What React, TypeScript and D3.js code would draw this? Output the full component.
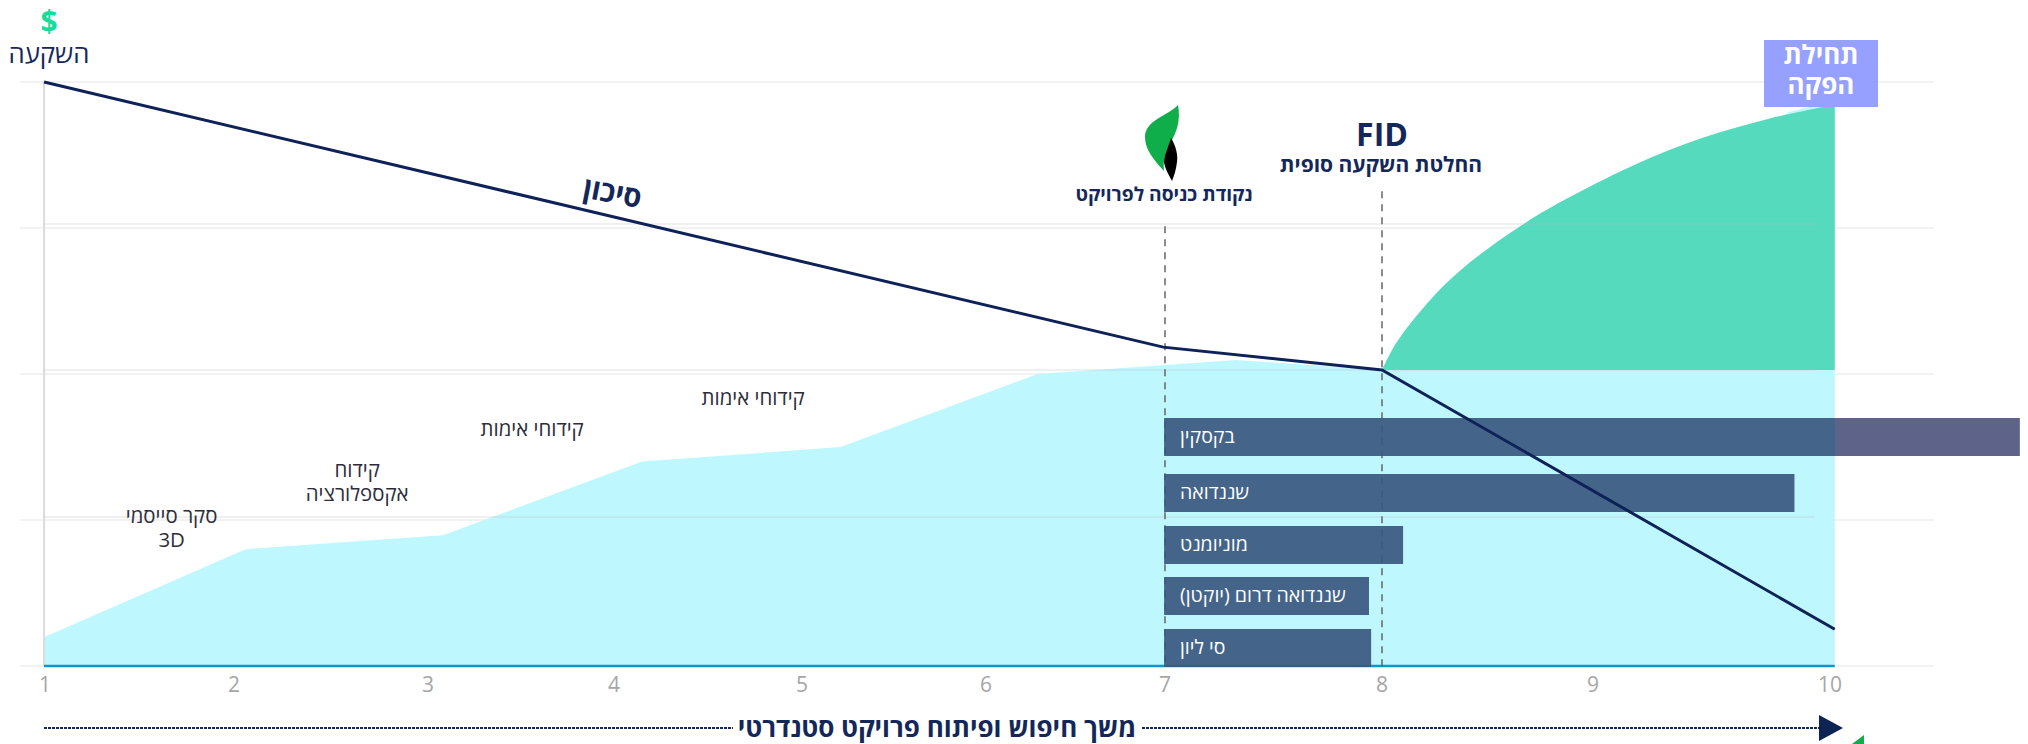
import React from "react";
import * as d3 from "d3";

const WIDTH = 2028;
const HEIGHT = 744;
const FONT = "'Open Sans', 'Noto Sans', 'DejaVu Sans', sans-serif";

// tick labels and their (uneven) positions along the timeline
const xTicks = [1, 2, 3, 4, 5, 6, 7, 8, 9, 10];
const xTickPixels = [45, 234, 428, 614, 802, 986, 1165, 1382, 1593, 1830];

// values (0–100 scale of the hidden y axis)
const gridValues = [0, 25, 50, 75, 100];
const gridOverlayValues = [25.5, 50.7, 75.7];

const riskX = [0.995, 6.99, 8, 10.02];
const riskY = [100, 54.6, 50.7, 6.3];

const explorationX = [1, 2.06, 3.08, 4.15, 5.21, 6.29, 7.33, 8, 9.83, 10.02];
const explorationY = [5, 20, 22.4, 35, 37.5, 50, 52.4, 50.7, 94.9, 96.8];

const productionX = [8, 8.04, 8.1, 8.26, 8.42, 8.68, 8.89, 9.19, 9.46, 9.75, 10.02];
const productionY = [50.7, 53.6, 57, 63.9, 69.2, 75.9, 80.3, 86.1, 90.4, 93.8, 96.1];
const productionBase = 50.7;

const projects = ["בקסקין", "שננדואה", "מוניומנט", "שננדואה דרום (יוקטן)", "סי ליון"];
const projectStart = 6.995;
const projectEnd = [10.8, 9.85, 8.1, 7.94, 7.95];
const rowTops = [418, 474, 526, 577, 629];

const stageLabels = [
  { x: 1.67, y: 25.4, lines: ["סקר סייסמי", "3D"] },
  { x: 2.635, y: 33.3, lines: ["קידוח", "אקספלורציה"] },
  { x: 3.56, y: 40.4, lines: ["קידוחי אימות"] },
  { x: 4.74, y: 45.6, lines: ["קידוחי אימות"] },
];

const x = d3.scaleLinear().domain(xTicks).range(xTickPixels);
const y = d3.scaleLinear().domain([0, 100]).range([666, 82]);
const rowY = d3.scaleLinear().domain(projects.map((_, i) => i)).range(rowTops);
const ROW_H = 38;

const pairs = (xs: number[], ys: number[]) => xs.map((v, i) => [v, ys[i]] as [number, number]);

const riskLine = d3.line<[number, number]>().x((d) => x(d[0])).y((d) => y(d[1]))(pairs(riskX, riskY))!;
const explorationArea = d3
  .area<[number, number]>()
  .x((d) => x(d[0]))
  .y0(y(0))
  .y1((d) => y(d[1]))(pairs(explorationX, explorationY))!;
const productionArea = d3
  .area<[number, number]>()
  .x((d) => x(d[0]))
  .y0(y(productionBase))
  .y1((d) => y(d[1]))
  .curve(d3.curveCatmullRom.alpha(0.5))(pairs(productionX, productionY))!;

const NAVY = "#14275a";

export default function App() {
  const xEnd = x(10.02);
  return (
    <svg
      width={WIDTH}
      height={HEIGHT}
      viewBox={`0 0 ${WIDTH} ${HEIGHT}`}
      style={{ position: "absolute", left: 0, top: 0, display: "block", background: "#fff", fontFamily: FONT }}
    >
      {gridValues.map((v) => (
        <line key={v} x1={20} x2={1934} y1={y(v)} y2={y(v)} stroke="#eeeeee" strokeWidth={1.5} />
      ))}
      <line x1={x(0.995)} x2={x(0.995)} y1={y(100)} y2={y(0)} stroke="#dcdcdc" strokeWidth={2} />

      <path d={explorationArea} fill="#bff7ff" />
      <path d={productionArea} fill="#55dabe" />
      {gridOverlayValues.map((v) => (
        <line key={v} x1={x(0.995)} x2={1815} y1={y(v)} y2={y(v)} stroke="#bbbbbb" strokeOpacity={0.22} strokeWidth={2} />
      ))}

      <line x1={x(0.995)} x2={xEnd} y1={y(0)} y2={y(0)} stroke="#0a97d0" strokeWidth={2.5} />

      <line x1={x(7)} x2={x(7)} y1={y(75.3)} y2={y(0)} stroke="#666" strokeWidth={1.5} strokeDasharray="7 6" />
      <line x1={x(8)} x2={x(8)} y1={y(81.3)} y2={y(0)} stroke="#666" strokeWidth={1.5} strokeDasharray="7 6" />

      {projects.map((name, i) => (
        <g key={name}>
          <rect
            x={x(projectStart)}
            y={rowY(i)}
            width={x(projectEnd[i]) - x(projectStart)}
            height={ROW_H}
            fill="#3a587f"
            fillOpacity={0.92}
          />
          {projectEnd[i] > 10.02 && (
            <rect
              x={xEnd}
              y={rowY(i)}
              width={x(projectEnd[i]) - xEnd}
              height={ROW_H}
              fill="#5e6389"
            />
          )}
          <text
            x={1180}
            y={rowY(i) + ROW_H / 2 + 1}
            direction="rtl"
            textAnchor="end"
            dominantBaseline="middle"
            fontSize={19.5}
            fill="#fff"
          >
            {name}
          </text>
        </g>
      ))}

      <path d={riskLine} fill="none" stroke="#0e2257" strokeWidth={3} />

      {stageLabels.map((s, i) =>
        s.lines.map((t, j) => (
          <text
            key={i + "-" + j}
            x={x(s.x)}
            y={y(s.y) + j * 24}
            textAnchor="middle"
            dominantBaseline="middle"
            fontSize={20.4}
            fill="#2d2d3a"
          >
            {t}
          </text>
        ))
      )}

      {xTicks.map((t) => (
        <text key={t} x={x(t)} y={686} textAnchor="middle" dominantBaseline="middle" fontSize={21} fill="#a6a6a6">
          {t}
        </text>
      ))}

      {/* y-axis heading */}
      <text x={49} y={24} textAnchor="middle" dominantBaseline="middle" fontSize={30} fontWeight={700} fill="#16dd9c">
        $
      </text>
      <text x={49} y={56} textAnchor="middle" dominantBaseline="middle" fontSize={25.7} fill={NAVY}>
        השקעה
      </text>

      <text
        transform="translate(612,195) rotate(11)"
        textAnchor="middle"
        dominantBaseline="middle"
        fontSize={29}
        fontWeight={700}
        fill={NAVY}
      >
        סיכון
      </text>

      {/* entry logo */}
      <path
        d="M1178,105 C1181,122 1176,132 1171,142 C1165,152 1163,160 1164,171 C1154,160 1145,150 1145,137 C1145,120 1168,116 1178,105 Z"
        fill="#10ad4b"
      />
      <path d="M1171,138 C1176,146 1178,155 1177,162 C1176,170 1174,176 1172,181 C1169,175 1165,169 1164,162 C1164,154 1169,146 1171,138 Z" fill="#000" />

      <text x={1164} y={196} textAnchor="middle" dominantBaseline="middle" fontSize={19.2} fontWeight={700} fill={NAVY}>
        נקודת כניסה לפרויקט
      </text>
      <text x={1382} y={137} textAnchor="middle" dominantBaseline="middle" fontSize={32} fontWeight={700} fill={NAVY}>
        FID
      </text>
      <text x={1381} y={166} textAnchor="middle" dominantBaseline="middle" fontSize={21} fontWeight={700} fill={NAVY}>
        החלטת השקעה סופית
      </text>

      <rect x={1764} y={40} width={114} height={67} fill="#96a0ff" />
      <text x={1821} y={57} textAnchor="middle" dominantBaseline="middle" fontSize={26} fontWeight={700} fill="#fff">
        תחילת
      </text>
      <text x={1821} y={87} textAnchor="middle" dominantBaseline="middle" fontSize={26} fontWeight={700} fill="#fff">
        הפקה
      </text>

      {/* timeline arrow */}
      <line x1={44} x2={733} y1={728} y2={728} stroke={NAVY} strokeWidth={2} strokeDasharray="3 1" />
      <line x1={1142} x2={1822} y1={728} y2={728} stroke={NAVY} strokeWidth={2} strokeDasharray="3 1" />
      <path d="M1819,715 L1843,728 L1819,741 Z" fill="#0e2553" />
      <path d="M1852,744 L1864,735 L1864,744 Z" fill="#10ad4b" />
      <text x={937} y={730} textAnchor="middle" dominantBaseline="middle" fontSize={26} fontWeight={700} fill={NAVY}>
        משך חיפוש ופיתוח פרויקט סטנדרטי
      </text>
    </svg>
  );
}
